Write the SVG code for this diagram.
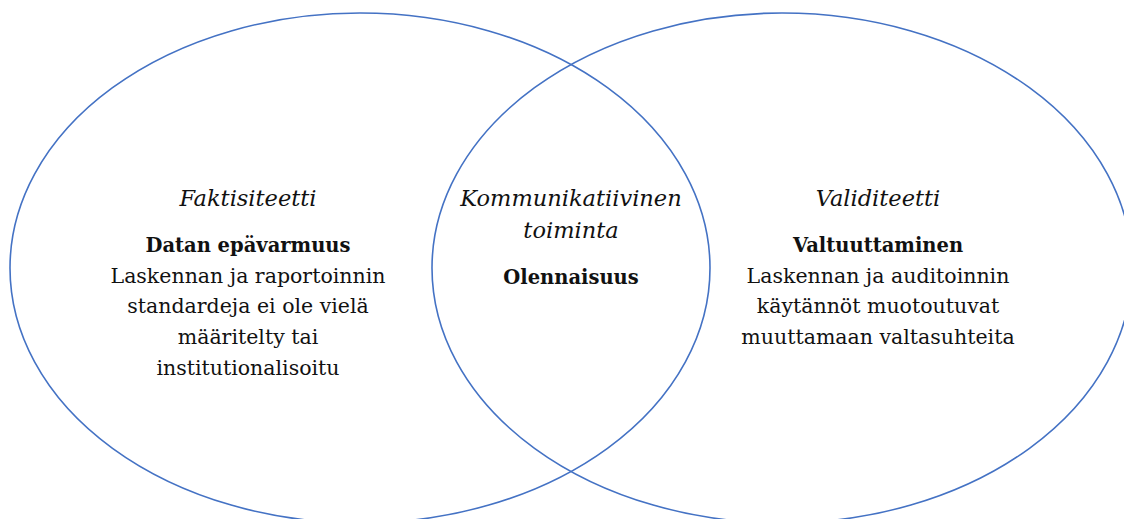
<svg xmlns="http://www.w3.org/2000/svg" width="1124" height="519" viewBox="0 0 1124 519">
<style>
.ring{fill:none;stroke:#4472C4;stroke-width:1.6}
text{font-family:"DejaVu Serif","Liberation Serif",serif;font-size:20.5px;fill:#111;text-anchor:middle}
.it{font-style:italic;font-size:22.5px}
.b{font-weight:bold;font-size:19.5px}
</style>
<rect width="1124" height="519" fill="#fff"/>
<g id="left-circle">
<ellipse class="ring" cx="360" cy="268" rx="350" ry="255"/>
<text class="it" x="248" y="206">Faktisiteetti</text>
<text class="b" x="248" y="252">Datan epävarmuus</text>
<text x="248" y="283">Laskennan ja raportoinnin</text>
<text x="248" y="313">standardeja ei ole vielä</text>
<text x="248" y="344">määritelty tai</text>
<text x="248" y="375">institutionalisoitu</text>
</g>
<g id="right-circle">
<ellipse class="ring" cx="782" cy="268" rx="350" ry="255"/>
<text class="it" x="878" y="206">Validiteetti</text>
<text class="b" x="878" y="252">Valtuuttaminen</text>
<text x="878" y="283">Laskennan ja auditoinnin</text>
<text x="878" y="313">käytännöt muotoutuvat</text>
<text x="878" y="344">muuttamaan valtasuhteita</text>
</g>
<g id="overlap">
<text class="it" x="571" y="206">Kommunikatiivinen</text>
<text class="it" x="571" y="238">toiminta</text>
<text class="b" x="571" y="284">Olennaisuus</text>
</g>
<g id="connectors"></g>
</svg>
